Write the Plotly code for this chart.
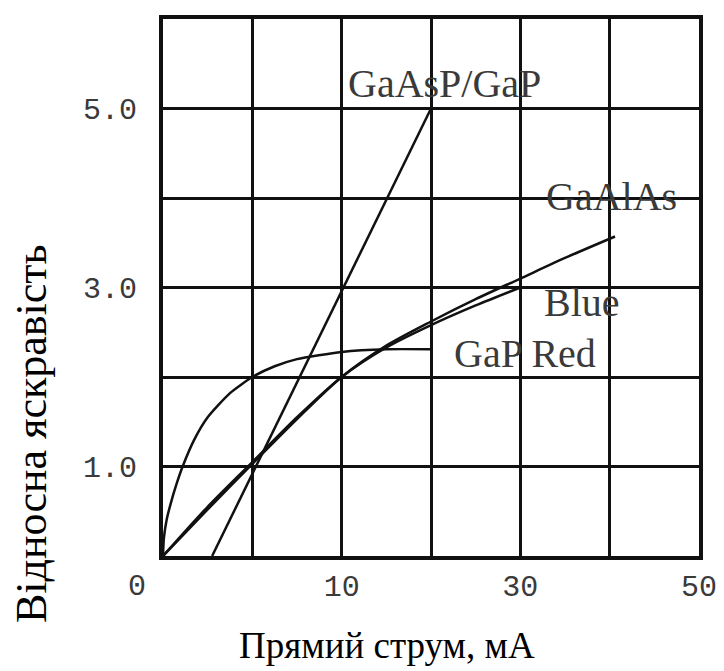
import plotly.graph_objects as go

# ---- data (grid units: x 0..6, y 0..6) ----
x_tick_vals = [0, 1, 2, 3, 4, 5, 6]
x_tick_text = ["", "", "10", "", "30", "", "50"]
y_tick_vals = [0, 1, 2, 3, 4, 5, 6]
y_tick_text = ["", "1.0", "", "3.0", "", "5.0", ""]

gaasp_x = [0.55, 3.0]
gaasp_y = [0.0, 5.0]

gaalas_x = [0, 0.5, 1.0, 1.5, 2.0, 2.5, 3.0, 3.5, 4.0, 4.5, 5.06]
gaalas_y = [0, 0.52, 1.03, 1.53, 2.0, 2.35, 2.62, 2.87, 3.1, 3.33, 3.57]

blue_x = [0, 0.5, 1.0, 1.5, 2.0, 2.5, 3.0, 3.5, 4.0]
blue_y = [0, 0.55, 1.05, 1.55, 2.0, 2.33, 2.58, 2.8, 3.0]

gapred_x = [0, 0.01, 0.04, 0.09, 0.15, 0.22, 0.35, 0.5, 0.75, 1.0, 1.25, 1.5, 2.0, 2.5, 3.0]
gapred_y = [0, 0.2, 0.4, 0.6, 0.8, 1.0, 1.3, 1.55, 1.82, 2.0, 2.12, 2.2, 2.28, 2.31, 2.31]

labels = ["GaAsP/GaP", "GaAlAs", "Blue", "GaP Red"]
label_x = [3.15, 5.02, 4.69, 4.05]
label_y = [5.28, 4.02, 2.83, 2.26]

LINE = "#111111"
TXT = "#3a3a3a"
MONO = "Liberation Mono, DejaVu Sans Mono, monospace"
SERIF = "Liberation Serif, Times New Roman, serif"

fig = go.Figure()
fig.add_trace(go.Scatter(x=gaasp_x, y=gaasp_y, mode="lines",
                         line=dict(color=LINE, width=2.5), showlegend=False))
fig.add_trace(go.Scatter(x=gaalas_x, y=gaalas_y, mode="lines",
                         line=dict(color=LINE, width=2.5, shape="spline", smoothing=0.8),
                         showlegend=False))
fig.add_trace(go.Scatter(x=blue_x, y=blue_y, mode="lines",
                         line=dict(color=LINE, width=2.5, shape="spline", smoothing=0.8),
                         showlegend=False))
fig.add_trace(go.Scatter(x=gapred_x, y=gapred_y, mode="lines",
                         line=dict(color=LINE, width=2.5, shape="spline", smoothing=0.6),
                         showlegend=False))

for t, lx, ly in zip(labels, label_x, label_y):
    fig.add_annotation(x=lx, y=ly, xref="x", yref="y", text=t, showarrow=False,
                       xanchor="center", yanchor="middle",
                       font=dict(family=SERIF, size=40, color=TXT))

# origin label
fig.add_annotation(x=0, y=-0.057, xref="x", yref="paper", text="0", xshift=-26,
                   xanchor="center", yanchor="middle",
                   showarrow=False, font=dict(family=MONO, size=30, color=TXT))

# axis titles
fig.add_annotation(x=2.51, y=-0.166, xref="x", yref="paper", text="Прямий струм, мА",
                   xanchor="center", yanchor="middle",
                   showarrow=False, font=dict(family=SERIF, size=37, color="#000000"))
fig.add_annotation(x=-0.245, y=1.37, xref="paper", yref="y", text="Відносна яскравість",
                   xanchor="center", yanchor="middle",
                   textangle=-90, showarrow=False,
                   font=dict(family=SERIF, size=44, color="#000000"))

fig.update_xaxes(range=[0, 6], tickvals=x_tick_vals, ticktext=x_tick_text,
                 showgrid=True, gridcolor=LINE, gridwidth=3,
                 showline=True, linecolor=LINE, linewidth=4, mirror=True,
                 ticks="", ticklen=0,
                 tickfont=dict(family=MONO, size=30, color=TXT), zeroline=False)
fig.update_yaxes(range=[0, 6], tickvals=y_tick_vals, ticktext=y_tick_text,
                 showgrid=True, gridcolor=LINE, gridwidth=3,
                 showline=True, linecolor=LINE, linewidth=4, mirror=True,
                 ticks="outside", ticklen=16, tickcolor="rgba(0,0,0,0)",
                 tickfont=dict(family=MONO, size=30, color=TXT), zeroline=False)

# page body has an 8px default margin, so the figure is sized to fit inside it
fig.update_layout(width=716, height=663,
                  margin=dict(l=155, r=19, t=7, b=115),
                  plot_bgcolor="white", paper_bgcolor="white")

fig.write_html("out.html")
